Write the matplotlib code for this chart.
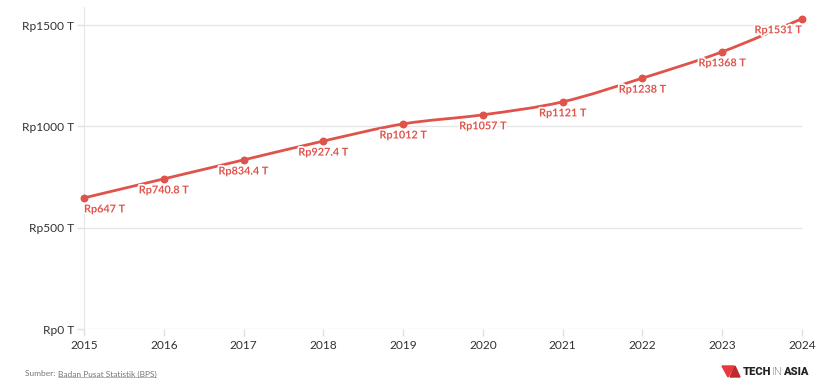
import matplotlib
matplotlib.use("Agg")
import matplotlib.pyplot as plt
import matplotlib.patheffects as pe
from matplotlib.path import Path
from matplotlib.patches import PathPatch, Polygon
import numpy as np

years = [2015, 2016, 2017, 2018, 2019, 2020, 2021, 2022, 2023, 2024]
values = [647, 740.8, 834.4, 927.4, 1012, 1057, 1121, 1238, 1368, 1531]
labels = ["Rp647 T", "Rp740.8 T", "Rp834.4 T", "Rp927.4 T", "Rp1012 T",
          "Rp1057 T", "Rp1121 T", "Rp1238 T", "Rp1368 T", "Rp1531 T"]
yticks = [0, 500, 1000, 1500]
ytick_labels = ["Rp0 T", "Rp500 T", "Rp1000 T", "Rp1500 T"]

RED = "#e0534b"
plt.rcParams['font.family'] = ['Lato', 'DejaVu Sans']

fig = plt.figure(figsize=(8.18, 3.81), dpi=100)
ax = fig.add_axes([84/818, 1-329/381, (802-84)/818, (329-7)/381])
ax.set_xlim(2015, 2024)
ax.set_ylim(0, 1589)

for s in ['top', 'right', 'bottom']:
    ax.spines[s].set_visible(False)
ax.spines['left'].set_color('#e6e6e6')
ax.set_yticks(yticks)
ax.set_yticklabels(ytick_labels)
ax.set_xticks(years)
ax.set_xticklabels([str(y) for y in years])
ax.grid(axis='y', color='#e6e6e6', linewidth=1)
ax.tick_params(axis='both', colors='#e0e0e0', labelcolor='#333333', labelsize=8.6,
               length=5, width=1)
ax.tick_params(axis='x', pad=3)
ax.tick_params(axis='y', pad=2)
ax.set_axisbelow(True)

# smooth curve via cubic Bezier (Catmull-Rom style tangents)
x = np.array(years, float)
y = np.array(values, float)
n = len(x)
tang = np.zeros(n)
for i in range(n):
    if i == 0:
        tang[i] = (y[1]-y[0])/(x[1]-x[0])
    elif i == n-1:
        tang[i] = (y[-1]-y[-2])/(x[-1]-x[-2])
    else:
        tang[i] = (y[i+1]-y[i-1])/(x[i+1]-x[i-1])
verts = [(x[0], y[0])]
codes = [Path.MOVETO]
for i in range(n-1):
    h = (x[i+1]-x[i])/3
    verts += [(x[i]+h, y[i]+tang[i]*h), (x[i+1]-h, y[i+1]-tang[i+1]*h), (x[i+1], y[i+1])]
    codes += [Path.CURVE4]*3
ax.add_patch(PathPatch(Path(verts, codes), facecolor='none', edgecolor=RED,
                       linewidth=2.0, clip_on=False, zorder=3, capstyle='round'))
ax.scatter(years, values, s=22, color=RED, zorder=4, clip_on=False)

for i, (xx, yy, lab) in enumerate(zip(years, values, labels)):
    ha = 'center'
    if i == 0:
        ha = 'left'
    elif i == n-1:
        ha = 'right'
    ax.annotate(lab, (xx, yy), xytext=(0, -4), textcoords='offset points',
                ha=ha, va='top', fontsize=7.8, fontweight='bold', color=RED,
                zorder=5, annotation_clip=False,
                path_effects=[pe.withStroke(linewidth=2.5, foreground='white')])

# footer
fig.canvas.draw()
r = fig.canvas.get_renderer()
t1 = fig.text(25/818, 1-374/381, "Sumber: ", fontsize=6, color='#777777', va='center')
bb = t1.get_window_extent(r)
t2 = fig.text(bb.x1/818, 1-374/381, "Badan Pusat Statistik (BPS)", fontsize=6,
              color='#777777', va='center')
bb2 = t2.get_window_extent(r)
fig.add_artist(plt.Line2D([bb2.x0/818, bb2.x1/818], [(bb2.y0+0.5)/381]*2,
                          color='#999999', linewidth=0.5, transform=fig.transFigure))

# logo
lx, ly = 722, 372
def fp(px, py):
    return ((lx+px)/818, 1-(ly+py)/381)
tri1 = Polygon([fp(0, -6), fp(12, -6), fp(6, 5)], closed=True, color='#e8383d',
               transform=fig.transFigure)
tri2 = Polygon([fp(8, 5), fp(13, -6), fp(18, 5)], closed=True, color='#c0282d',
               transform=fig.transFigure)
fig.add_artist(tri1)
fig.add_artist(tri2)
cx = lx + 21
for part, w in [("TECH", 'heavy'), ("IN", 'light'), ("ASIA", 'heavy')]:
    t = fig.text(cx/818, 1-ly/381, part, fontsize=8, fontweight=w, color='#222222',
                 va='center', family=['Roboto', 'DejaVu Sans'])
    cx = t.get_window_extent(r).x1 + 0.5

fig.savefig("out.png", dpi=100, facecolor='white')
